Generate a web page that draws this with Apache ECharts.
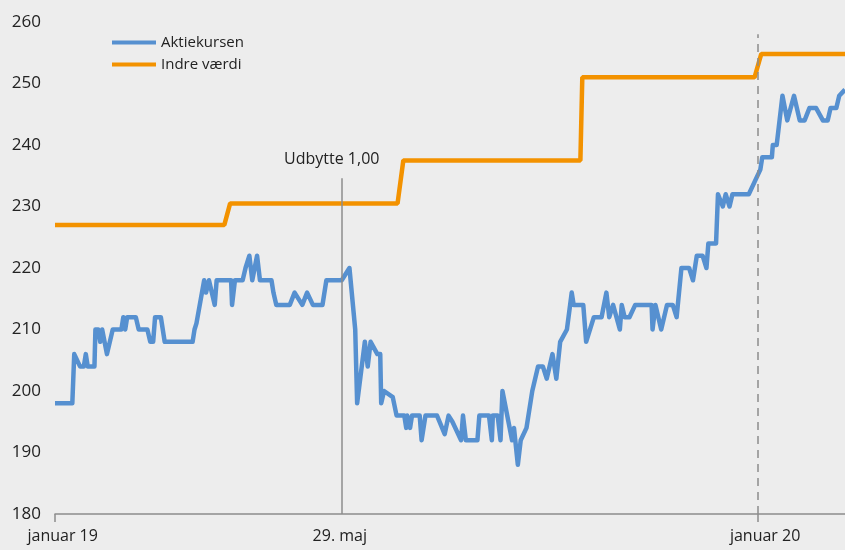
<!DOCTYPE html>
<html>
<head>
<meta charset="utf-8">
<script src="https://cdn.jsdelivr.net/npm/echarts@6/dist/echarts.min.js"></script>
<style>
  html, body { margin: 0; padding: 0; background: #ededed; }
  #chart { width: 845px; height: 550px; }
</style>
</head>
<body>
<div id="chart"></div>
<script>
// days counted from januar 19 (day 0)
var aktieDays = [0, 9, 10, 13, 15, 16, 17, 20.5, 21, 22.5, 23.5, 24.5, 27, 30, 34.5, 35.5, 36.5, 37.5, 42, 43.5,
  48, 49.5, 51, 52, 55, 57, 71.5, 72.5, 73.5, 77.5, 78.5, 80, 83, 84, 91.5, 92, 93.5, 97.5, 99, 101,
  102.5, 105, 106.5, 112.5, 113.5, 115, 122, 124.5, 128.5, 131, 134, 139, 141, 149, 153, 156, 157, 161, 162.5, 164,
  165, 167.5, 169, 169.5, 171, 175.5, 177.5, 181.5, 182.5, 183, 184.5, 185.5, 189.5, 190.5, 192.5, 198.5, 202.5, 204.5, 206.5, 211,
  212, 213.5, 219.5, 220.5, 225.5, 227, 227.5, 230, 231.5, 232.5, 237.5, 238.5, 240.5, 242, 245, 248, 251, 253.5, 255.5, 258.5,
  260.5, 262.5, 266, 268.5, 269.5, 274.5, 276, 280, 284, 286.5, 288, 290, 293.5, 294.5, 296, 298.5, 301.5, 310, 310.5, 312,
  315, 318, 321, 323, 325.5, 329.5, 331.5, 333.5, 336.5, 338.5, 339.5, 343.5, 344.5, 347, 348.5, 350.5, 352, 360.5, 366.5, 367.5,
  372.5, 373, 375, 378, 380.5, 384, 387, 389.5, 392, 395.5, 399, 401.5, 403, 406, 407.5, 410.5];
var aktieValues = [198, 198, 206, 204, 204, 206, 204, 204, 210, 210, 208, 210, 206, 210, 210, 212, 210, 212, 212, 210,
  210, 208, 208, 212, 212, 208, 208, 210, 211, 218, 216, 218, 214, 218, 218, 214, 218, 218, 220, 222,
  218, 222, 218, 218, 216, 214, 214, 216, 214, 216, 214, 214, 218, 218, 220, 210, 198, 208, 204, 208,
  208, 206, 206, 198, 200, 199, 196, 196, 194, 196, 194, 196, 196, 192, 196, 196, 193, 196, 195, 192,
  196, 192, 192, 196, 196, 192, 196, 196, 192, 200, 192, 194, 188, 192, 194, 200, 204, 204, 202, 206,
  202, 208, 210, 216, 214, 214, 208, 212, 212, 216, 212, 214, 210, 214, 212, 212, 214, 214, 210, 214,
  210, 214, 214, 212, 220, 220, 218, 222, 222, 220, 224, 224, 232, 230, 232, 230, 232, 232, 236, 238,
  238, 240, 240, 248, 244, 248, 244, 244, 246, 246, 244, 244, 246, 246, 248, 249];

var indreDays = [0, 88, 91, 178, 181, 273, 274, 363.5, 367, 410.5];
var indreValues = [227, 227, 230.5, 230.5, 237.5, 237.5, 251, 251, 254.8, 254.8];

var xLabelDays = [4, 148, 369];
var xLabelTexts = ['januar 19', '29. maj', 'januar 20'];
var xTickDays = [0, 365];
var udbytteDay = 149;
var nyAarDay = 365;

function zip(xs, ys) {
  return xs.map(function (x, i) { return [x, ys[i]]; });
}

var chart = echarts.init(document.getElementById('chart'));
var font = '"Open Sans", "Noto Sans", sans-serif';

chart.setOption({
  backgroundColor: '#ededed',
  animation: false,
  textStyle: { fontFamily: font },
  legend: {
    orient: 'vertical',
    left: 107,
    top: 30,
    itemWidth: 44,
    itemHeight: 4,
    itemGap: 7,
    icon: 'rect',
    textStyle: { fontSize: 15, lineHeight: 15, color: '#222', fontFamily: font },
    data: ['Aktiekursen', 'Indre værdi']
  },
  grid: {
    left: 55,
    right: 0,
    top: 22,
    bottom: 36,
    outerBoundsMode: 'none'
  },
  xAxis: {
    type: 'value',
    min: 0,
    max: 410.5,
    splitLine: { show: false },
    axisLine: { show: true, lineStyle: { color: '#8c8c8c', width: 1.5 } },
    axisTick: {
      show: true,
      length: 8,
      customValues: xTickDays,
      lineStyle: { color: '#8c8c8c', width: 1.5 }
    },
    axisLabel: {
      customValues: xLabelDays,
      margin: 14,
      fontSize: 16,
      color: '#222',
      fontFamily: font,
      formatter: function (v) {
        var i = xLabelDays.indexOf(v);
        return i >= 0 ? xLabelTexts[i] : '';
      }
    }
  },
  yAxis: {
    type: 'value',
    min: 180,
    max: 260,
    interval: 10,
    splitLine: { show: false },
    axisLine: { show: false },
    axisTick: { show: false },
    axisLabel: { margin: 14, fontSize: 17, color: '#222', fontFamily: font }
  },
  series: [
    {
      name: 'Aktiekursen',
      type: 'line',
      showSymbol: false,
      symbol: 'none',
      color: '#5690d0',
      lineStyle: { width: 4.5, color: '#5690d0', join: 'round' },
      data: zip(aktieDays, aktieValues),
      z: 3,
      markLine: {
        silent: true,
        symbol: 'none',
        animation: false,
        data: [
          [
            { coord: [udbytteDay, 180], lineStyle: { color: '#8c8c8c', width: 1.5, type: 'solid' } },
            {
              coord: [udbytteDay, 234.6],
              label: {
                show: true,
                position: 'end',
                formatter: 'Udbytte 1,00',
                fontSize: 16,
                color: '#222',
                fontFamily: font,
                distance: 11,
                offset: [-10, 0]
              }
            }
          ],
          [
            { coord: [nyAarDay, 180], lineStyle: { color: '#8c8c8c', width: 1.5, type: [8, 6] } },
            { coord: [nyAarDay, 258], label: { show: false } }
          ]
        ]
      }
    },
    {
      name: 'Indre værdi',
      type: 'line',
      showSymbol: false,
      symbol: 'none',
      color: '#f39200',
      lineStyle: { width: 4.5, color: '#f39200' },
      data: zip(indreDays, indreValues),
      z: 2
    }
  ]
});
</script>
</body>
</html>
